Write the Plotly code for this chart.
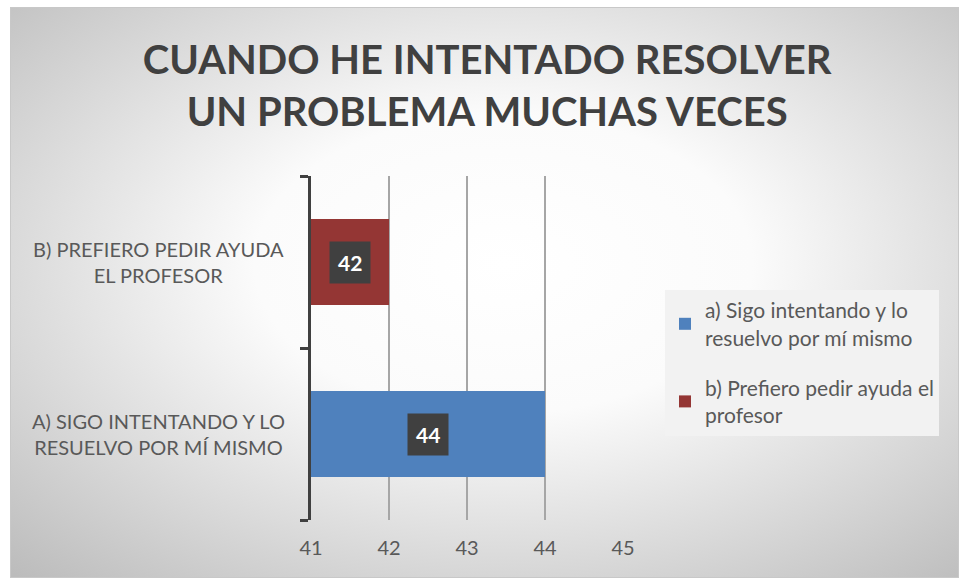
import base64
import plotly.graph_objects as go

# ---- data ----
categories = ["A) SIGO INTENTANDO Y LO<br>RESUELVO POR MÍ MISMO",
              "B) PREFIERO PEDIR AYUDA<br>EL PROFESOR"]
series_names = ["a) Sigo intentando y lo<br>resuelvo por mí mismo",
                "b) Prefiero pedir ayuda el<br>profesor"]
values = [44, 42]
colors = ["#4F81BD", "#943634"]
x_ticks = [41, 42, 43, 44, 45]
title_text = "CUANDO HE INTENTADO RESOLVER<br>UN PROBLEMA MUCHAS VECES"

W, H = 959, 578
L, R, T, B = 311, 623, 176, 520  # plot area pixels

def px_x(p):
    return (p - L) / (R - L)

def px_y(p):
    return (B - p) / (B - T)

fig = go.Figure()
for i, (cat, name, val, col) in enumerate(zip(categories, series_names, values, colors)):
    fig.add_trace(go.Bar(
        y=[cat], x=[val], name=name, orientation="h", legendgroup=f"g{i}",
        marker=dict(color=col, line=dict(width=0)),
        width=0.5,
    ))

# data labels (dark boxes)
for cat, val in zip(categories, values):
    fig.add_annotation(
        x=(x_ticks[0] + val) / 2, y=cat, xref="x", yref="y",
        text=f"<b>{val}</b>", showarrow=False,
        font=dict(family="Lato", size=21, color="white"),
        bgcolor="#404040", borderpad=8,
    )

# category labels centered
for cat in categories:
    fig.add_annotation(
        x=px_x(158), y=cat, xref="paper", yref="y",
        text=cat, showarrow=False, align="center", xanchor="center",
        font=dict(family="Lato", size=20, color="#595959"),
    )

# background gradient frame
fw, fh = W - 10, H - 7
svg = (f'<svg xmlns="http://www.w3.org/2000/svg" width="{fw}" height="{fh}">'
       '<defs><radialGradient id="g" cx="0.52" cy="0.45" r="0.75">'
       '<stop offset="0" stop-color="#ffffff"/>'
       '<stop offset="0.35" stop-color="#fbfbfb"/>'
       '<stop offset="1" stop-color="#bcbcbc"/>'
       '</radialGradient></defs>'
       f'<rect x="0.5" y="0.5" width="{fw-1}" height="{fh-1}" fill="url(#g)" stroke="#c8c8c8"/></svg>')
uri = "data:image/svg+xml;base64," + base64.b64encode(svg.encode()).decode()
fig.add_layout_image(
    source=uri, xref="paper", yref="paper",
    x=px_x(10), y=px_y(7), sizex=px_x(W) - px_x(10), sizey=px_y(7) - px_y(H),
    xanchor="left", yanchor="top", sizing="stretch", layer="below",
)

fig.update_layout(
    width=W, height=H,
    margin=dict(l=L, r=W - R, t=T, b=H - B),
    paper_bgcolor="white", plot_bgcolor="rgba(0,0,0,0)",
    barmode="overlay",
    title=dict(text=f"<b>{title_text}</b>", x=0.508, xanchor="center",
               y=1 - 74 / H, yanchor="middle",
               font=dict(family="Lato", size=40, color="#404040")),
    legend=dict(x=px_x(665), y=px_y(290), xanchor="left", yanchor="top",
                bgcolor="#f2f2f2", font=dict(family="Lato", size=21, color="#595959"),
                itemwidth=30, tracegroupgap=20),
    showlegend=True,
    xaxis=dict(range=[41, 45], tickvals=x_ticks, showgrid=True, gridcolor="#a6a6a6",
               gridwidth=1.5, zeroline=False, showline=False, ticks="",
               ticklabelstandoff=14,
               tickfont=dict(family="Lato", size=20, color="#595959"),
               fixedrange=True),
    yaxis=dict(categoryorder="array", categoryarray=categories, showticklabels=False,
               showline=True, linecolor="#404040", linewidth=3,
               ticks="outside", ticklen=8, tickwidth=3, tickcolor="#404040",
               tickson="boundaries", showgrid=False, fixedrange=True),
)

fig.write_html("out.html", config={"displayModeBar": False},
               post_script="document.body.style.margin='0';")
